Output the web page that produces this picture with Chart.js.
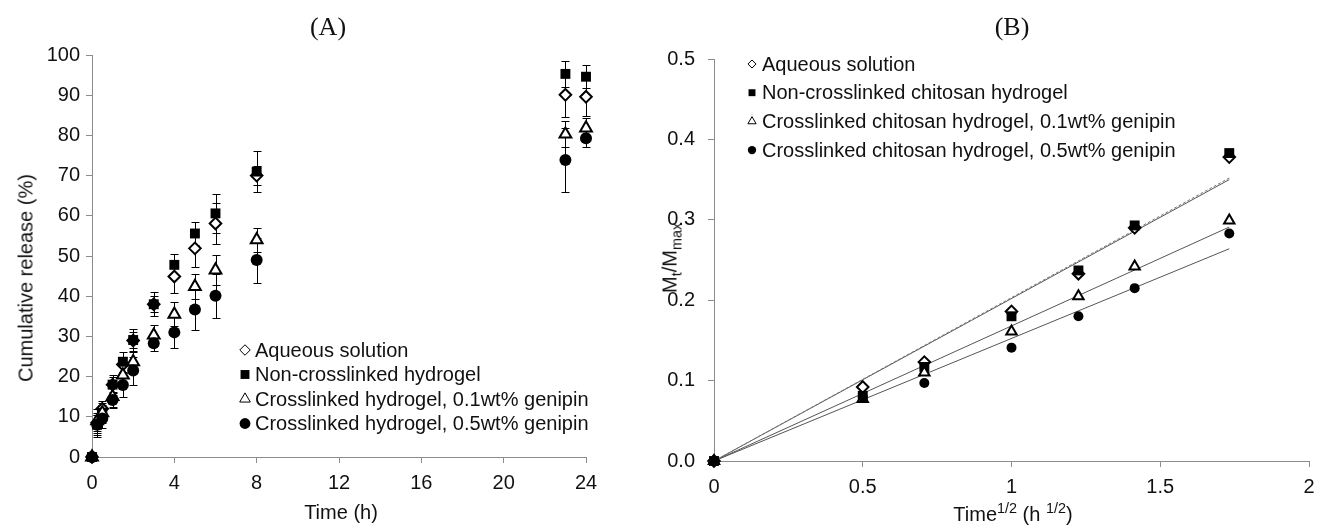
<!DOCTYPE html>
<html lang="en">
<head>
<meta charset="utf-8">
<title>Cumulative release</title>
<script src="https://cdn.jsdelivr.net/npm/chart.js@4.4.1/dist/chart.umd.min.js"></script>
<style>
    body { margin: 0; background: #fff; }
    #lienzo { position: relative; width: 1329px; height: 529px; font-family: "Liberation Sans", Arial, sans-serif; color: #111; overflow: hidden; }
    .panel { position: absolute; top: 0; }
    #panelA { left: 0; }
    #panelB { left: 640px; }
    .titulo { position: absolute; font-family: "Liberation Serif", "Times New Roman", serif; font-size: 26px; transform: translate(-50%, -50%); white-space: nowrap; }
    .eje { position: absolute; font-size: 20px; white-space: nowrap; transform: translate(-50%, -50%); }
    .eje.vertical { transform: translate(-50%, -50%) rotate(-90deg); }
    .eje sub, .eje sup { font-size: 0.72em; line-height: 0; }
</style>
</head>
<body>
<div id="lienzo">
    <div class="panel" id="panelA"><canvas id="graficoLiberacion" width="640" height="529"></canvas></div>
    <div class="panel" id="panelB"><canvas id="graficoRaiz" width="689" height="529"></canvas></div>

    <div class="titulo" style="left:328px; top:27px;">(A)</div>
    <div class="titulo" style="left:1012px; top:27px;">(B)</div>

    <div class="eje vertical" style="left:26px; top:278px;">Cumulative release (%)</div>
    <div class="eje" style="left:341px; top:512px;">Time (h)</div>
    <div class="eje vertical" style="left:670px; top:258px;">M<sub>t</sub>/M<sub>max</sub></div>
    <div class="eje" style="left:1013px; top:514px;">Time<sup>1/2</sup> (h <sup>1/2</sup>)</div>
</div>

<script>
// ================== DATOS (A) ==================

const tiempos = [0, 0.25, 0.5, 1, 1.5, 2, 3, 4, 5, 6, 8, 23, 24];

const acuosa       = [0, 8.5, 12, 18, 23, 29, 38, 44.9, 51.9, 58.1, 70, 90.1, 89.6];
const acuosaErr    = [0, 2, 2, 2, 2, 2, 2, 4.2, 4.7, 5.2, 2.4, 5.4, 4.7];
const noReticulado    = [0, 8, 11, 18, 23.7, 29.1, 38, 47.8, 55.6, 60.6, 71, 95.3, 94.6];
const noReticuladoErr = [0, 2.5, 2, 2.5, 2.5, 2.7, 3, 2.7, 2.9, 4.8, 5.2, 3.2, 2.8];
const genipina01    = [0, 9, 11, 15, 20.4, 23.7, 30.3, 35.5, 42.4, 46.5, 54, 80.3, 81.8];
const genipina01Err = [0, 3, 2.5, 2.5, 3, 2.5, 2.5, 3, 3, 3.7, 3, 3.3, 2.5];
const genipina05    = [0, 8, 9.6, 14.2, 17.9, 21.5, 28.3, 31, 36.7, 40.1, 49, 73.9, 79.3];
const genipina05Err = [0, 3, 2.5, 2, 3, 3.5, 2, 4, 5, 5.4, 5.6, 8, 2.3];

const etiquetasA = [
    "Aqueous solution",
    "Non-crosslinked hydrogel",
    "Crosslinked hydrogel, 0.1wt% genipin",
    "Crosslinked hydrogel, 0.5wt% genipin"
];

// ================== DATOS (B) ==================

const raizTiempo = [0, 0.5, 0.707, 1, 1.225, 1.414, 1.732];

const acuosaB       = [0, 0.092, 0.123, 0.186, 0.233, 0.29, 0.378];
const noReticuladoB = [0, 0.081, 0.117, 0.18, 0.237, 0.293, 0.383];
const genipina01B   = [0, 0.077, 0.11, 0.161, 0.205, 0.242, 0.299];
const genipina05B   = [0, 0.08, 0.097, 0.141, 0.18, 0.215, 0.283];

// rectas ajustadas por el origen: valor al final del tramo
const ajusteX   = [0, 1.732];
const ajusteFin = [0.352, 0.350, 0.291, 0.264];

const etiquetasB = [
    "Aqueous solution",
    "Non-crosslinked chitosan hydrogel",
    "Crosslinked chitosan hydrogel, 0.1wt% genipin",
    "Crosslinked chitosan hydrogel, 0.5wt% genipin"
];

const ticksAX = [0, 4, 8, 12, 16, 20, 24];
const ticksBY = [0, 0.1, 0.2, 0.3, 0.4, 0.5];

// ================== ESTILOS ==================

const FUENTE = '"Liberation Sans", Arial, sans-serif';
const GRIS_EJE = "#8c8c8c";

const MARCADORES = [
    { pointStyle: "rectRot",  radius: 5.8, fill: "#ffffff", borderWidth: 2 },
    { pointStyle: "rect",     radius: 7,   fill: "#000000", borderWidth: 0 },
    { pointStyle: "triangle", radius: 6.8, fill: "#ffffff", borderWidth: 2 },
    { pointStyle: "circle",   radius: 6,   fill: "#000000", borderWidth: 0 }
];

function puntos(xs, ys) {
    return xs.map((x, i) => ({ x: x, y: ys[i] }));
}

function serieMarcador(etiqueta, datos, indice, extra) {
    const m = MARCADORES[indice];
    return Object.assign({
        label: etiqueta,
        data: datos,
        pointStyle: m.pointStyle,
        pointRadius: m.radius,
        pointHoverRadius: m.radius,
        pointBackgroundColor: m.fill,
        pointBorderColor: "#000000",
        pointBorderWidth: m.borderWidth,
        backgroundColor: m.fill,
        borderColor: "#000000",
        showLine: false,
        clip: false,
        order: 10 - indice,
        enLeyenda: true,
        estiloLeyenda: m
    }, extra || {});
}

function escalaX(min, max, paso, alto) {
    return {
        type: "linear",
        min: min,
        max: max,
        ticks: {
            stepSize: paso,
            color: "#111",
            font: { family: FUENTE, size: 20 },
            padding: 8,
            maxRotation: 0,
            autoSkip: false,
            callback: v => String(v)
        },
        grid: { drawOnChartArea: false, drawTicks: true, tickLength: 6, color: GRIS_EJE },
        border: { color: GRIS_EJE, width: 1 },
        afterFit: s => { s.height = alto; }
    };
}

function escalaY(min, max, paso, ancho, relleno, formato) {
    return {
        type: "linear",
        min: min,
        max: max,
        ticks: {
            stepSize: paso,
            color: "#111",
            font: { family: FUENTE, size: 20 },
            padding: relleno,
            autoSkip: false,
            callback: formato || (v => String(v))
        },
        grid: { drawOnChartArea: false, drawTicks: true, tickLength: 6, color: GRIS_EJE },
        border: { color: GRIS_EJE, width: 1 },
        afterFit: s => { s.width = ancho; }
    };
}

// ================== PLUGINS ==================

// barras de error verticales, dibujadas por debajo de los marcadores
const barrasError = {
    id: "barrasError",
    beforeDatasetsDraw(chart) {
        const ctx = chart.ctx;
        const ejeY = chart.scales.y;
        ctx.save();
        ctx.strokeStyle = "#000";
        ctx.lineWidth = 1;
        chart.data.datasets.forEach((ds, i) => {
            if (!ds.errores) return;
            const meta = chart.getDatasetMeta(i);
            meta.data.forEach((pt, j) => {
                const e = ds.errores[j];
                if (!e) return;
                const v = ds.data[j].y;
                const arriba = Math.round(ejeY.getPixelForValue(v + e)) + 0.5;
                const abajo = Math.round(ejeY.getPixelForValue(v - e)) + 0.5;
                const x = Math.round(pt.x) + 0.5;
                ctx.beginPath();
                ctx.moveTo(x, arriba); ctx.lineTo(x, abajo);
                ctx.moveTo(x - 4, arriba); ctx.lineTo(x + 4, arriba);
                ctx.moveTo(x - 4, abajo); ctx.lineTo(x + 4, abajo);
                ctx.stroke();
            });
        });
        ctx.restore();
    }
};

// leyenda libre dentro del area de trazado
const leyendaManual = {
    id: "leyendaManual",
    afterDraw(chart, args, opts) {
        const ctx = chart.ctx;
        ctx.save();
        ctx.font = "20px " + FUENTE;
        ctx.textBaseline = "middle";
        ctx.textAlign = "left";
        let fila = 0;
        chart.data.datasets.forEach(ds => {
            if (!ds.enLeyenda) return;
            const m = ds.estiloLeyenda;
            const y = opts.y + fila * opts.salto;
            ctx.fillStyle = m.fill;
            ctx.strokeStyle = "#000";
            ctx.lineWidth = 1;
            Chart.helpers.drawPoint(ctx, {
                pointStyle: m.pointStyle,
                radius: m.radius * opts.escala,
                rotation: 0,
                borderWidth: m.borderWidth ? 1 : 0
            }, opts.x, y);
            ctx.fillStyle = "#111";
            ctx.fillText(ds.label, opts.x + opts.separacion, y + 1);
            fila++;
        });
        ctx.restore();
    }
};

// ================== GRAFICO (A) ==================

const seriesA = [acuosa, noReticulado, genipina01, genipina05];
const erroresA = [acuosaErr, noReticuladoErr, genipina01Err, genipina05Err];

new Chart(document.getElementById("graficoLiberacion"), {
    type: "scatter",
    data: {
        datasets: seriesA.map((serie, i) =>
            serieMarcador(etiquetasA[i], puntos(tiempos, serie), i, { errores: erroresA[i] })
        )
    },
    options: {
        responsive: false,
        animation: false,
        layout: { padding: { top: 55, right: 54, left: 0, bottom: 0 } },
        plugins: {
            legend: { display: false },
            tooltip: { enabled: false },
            leyendaManual: { x: 245, y: 350, salto: 24.5, separacion: 10, escala: 0.9 }
        },
        scales: {
            x: Object.assign(escalaX(0, 24, 4, 72), {
                afterBuildTicks: s => { s.ticks = ticksAX.map(v => ({ value: v })); }
            }),
            y: escalaY(0, 100, 10, 92, 6)
        }
    },
    plugins: [barrasError, leyendaManual]
});

// ================== GRAFICO (B) ==================

const seriesB = [acuosaB, noReticuladoB, genipina01B, genipina05B];

const rectas = ajusteFin.map((fin, i) => ({
    data: puntos(ajusteX, [0, fin]),
    showLine: true,
    borderColor: i === 0 ? "#7a7a7a" : "#555555",
    borderWidth: 1,
    borderDash: i === 0 ? [3, 2] : [],
    pointRadius: 0,
    pointHoverRadius: 0,
    fill: false,
    order: 20 + i
}));

const marcadoresB = seriesB.map((serie, i) => {
    const ds = serieMarcador(etiquetasB[i], puntos(raizTiempo, serie), i);
    if (i === 3) { ds.pointRadius = 5; ds.pointHoverRadius = 5; }
    if (i === 2) { ds.pointRadius = 6; ds.pointHoverRadius = 6; }
    return ds;
});

new Chart(document.getElementById("graficoRaiz"), {
    type: "scatter",
    data: { datasets: rectas.concat(marcadoresB) },
    options: {
        responsive: false,
        animation: false,
        layout: { padding: { top: 59, right: 20, left: 0, bottom: 0 } },
        plugins: {
            legend: { display: false },
            tooltip: { enabled: false },
            leyendaManual: { x: 112, y: 64, salto: 28.7, separacion: 10, escala: 0.7 }
        },
        scales: {
            x: escalaX(0, 2, 0.5, 68),
            y: Object.assign(escalaY(0, 0.5, 0.1, 74, 13, v => v.toFixed(1)), {
                afterBuildTicks: s => { s.ticks = ticksBY.map(v => ({ value: v })); }
            })
        }
    },
    plugins: [leyendaManual]
});
</script>
</body>
</html>
